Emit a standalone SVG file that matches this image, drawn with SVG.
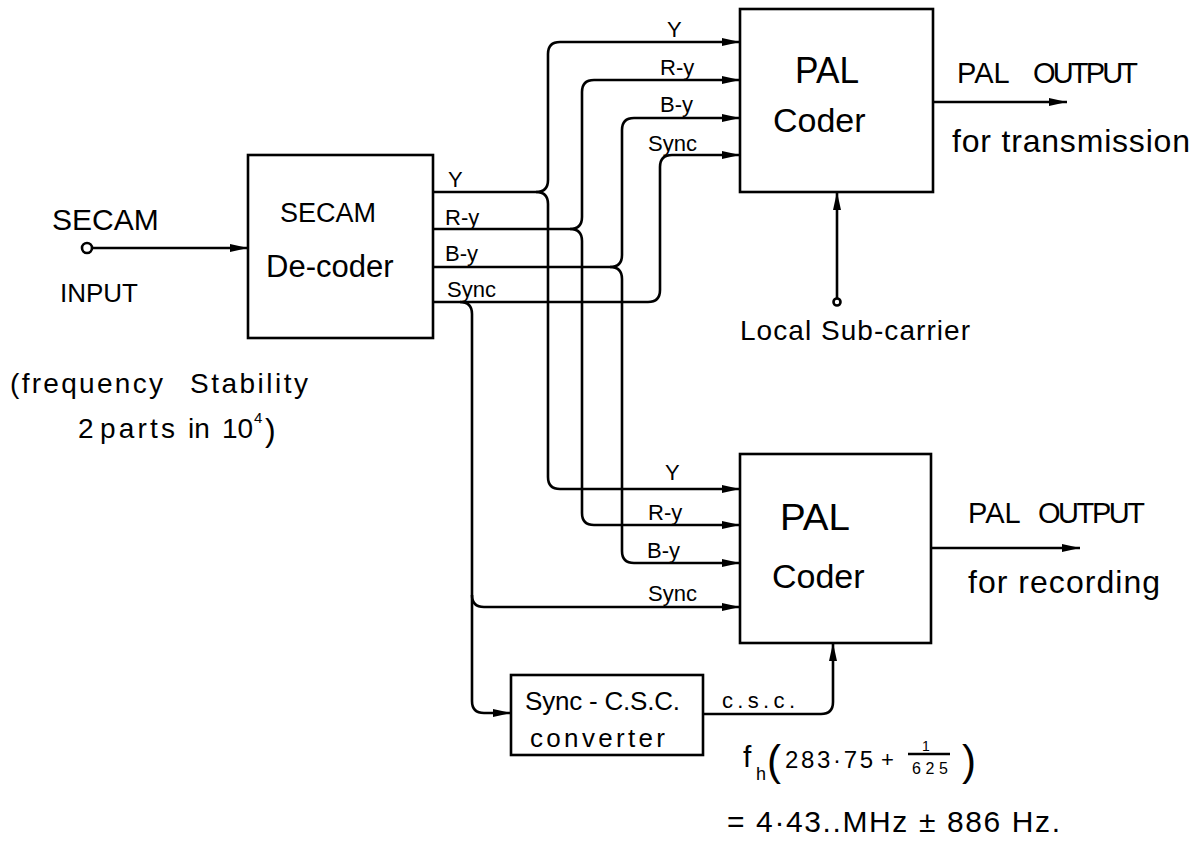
<svg xmlns="http://www.w3.org/2000/svg" width="1201" height="842" viewBox="0 0 1201 842">
<style>
.box{fill:none;stroke:#000;stroke-width:2.6}
.ln{fill:none;stroke:#000;stroke-width:2.6;stroke-linejoin:round}
.t{font-family:"Liberation Sans","DejaVu Sans",sans-serif;fill:#000}
.lbl{font-size:22px}
.big{font-size:34px}
.mid{font-size:29px}
</style>
<defs>
<marker id="arr" viewBox="0 0 18 10" refX="18" refY="5" markerWidth="18" markerHeight="10" markerUnits="userSpaceOnUse" orient="auto">
<path d="M0,1 L18,5 L0,9 Z" fill="#000"/>
</marker>
</defs>
<rect width="1201" height="842" fill="#fff"/>

<g id="connectors">
<circle cx="87" cy="248" r="5" class="ln"/>
<path class="ln" d="M92,248 H248" marker-end="url(#arr)"/>
<!-- Y -->
<path class="ln" d="M433,192 H536 Q548,192 548,180 V54 Q548,42 560,42 H740" marker-end="url(#arr)"/>
<path class="ln" d="M536,192 Q548,192 548,204 V477 Q548,489 560,489 H740" marker-end="url(#arr)"/>
<!-- R-y -->
<path class="ln" d="M433,229 H570 Q582,229 582,217 V92 Q582,80 594,80 H740" marker-end="url(#arr)"/>
<path class="ln" d="M570,229 Q582,229 582,241 V513 Q582,525 594,525 H740" marker-end="url(#arr)"/>
<!-- B-y -->
<path class="ln" d="M433,267 H610 Q622,267 622,255 V130 Q622,118 634,118 H740" marker-end="url(#arr)"/>
<path class="ln" d="M610,267 Q622,267 622,279 V551 Q622,563 634,563 H740" marker-end="url(#arr)"/>
<!-- Sync -->
<path class="ln" d="M433,302 H648 Q660,302 660,290 V167 Q660,155 672,155 H740" marker-end="url(#arr)"/>
<path class="ln" d="M460,302 Q472,302 472,314 V595 Q472,607 484,607 H740" marker-end="url(#arr)"/>
<path class="ln" d="M472,595 V701 Q472,713 484,713 H511" marker-end="url(#arr)"/>
<!-- c.s.c. -->
<path class="ln" d="M703,714 H821 Q833,714 833,702 V643" marker-end="url(#arr)"/>
<!-- local sub-carrier -->
<circle cx="837" cy="302" r="3.5" class="ln"/>
<path class="ln" d="M837,298 V192" marker-end="url(#arr)"/>
<!-- outputs -->
<path class="ln" d="M933,102 H1067" marker-end="url(#arr)"/>
<path class="ln" d="M931,548 H1080" marker-end="url(#arr)"/>
</g>

<g id="input-labels">
<text class="t" x="52" y="230" font-size="30">SECAM</text>
<text class="t" x="60" y="302" font-size="26">INPUT</text>
<text class="t" x="10" y="393" font-size="28" textLength="153">(frequency</text>
<text class="t" x="190" y="393" font-size="28" textLength="118">Stability</text>
<text class="t" x="78" y="438" font-size="28">2</text>
<text class="t" x="100" y="438" font-size="28" textLength="75">parts</text>
<text class="t" x="188" y="438" font-size="28">in</text>
<text class="t" x="222" y="438" font-size="28">10</text>
<text class="t" x="254" y="423" font-size="15">4</text>
<text class="t" x="265" y="441" font-size="32">)</text>
</g>

<g id="secam-decoder">
<rect class="box" x="248" y="155" width="185" height="183"/>
<text class="t" x="280" y="222" font-size="27">SECAM</text>
<text class="t" x="266" y="277" font-size="31">De-coder</text>
<text class="t lbl" x="448" y="187">Y</text>
<text class="t lbl" x="445" y="225">R-y</text>
<text class="t lbl" x="445" y="261">B-y</text>
<text class="t lbl" x="447" y="297">Sync</text>
</g>

<g id="pal-coder-transmission">
<rect class="box" x="740" y="9" width="193" height="183"/>
<text class="t" x="795" y="83" font-size="36" textLength="64" lengthAdjust="spacingAndGlyphs">PAL</text>
<text class="t big" x="773" y="132">Coder</text>
<text class="t lbl" x="667" y="37">Y</text>
<text class="t lbl" x="660" y="75">R-y</text>
<text class="t lbl" x="660" y="112">B-y</text>
<text class="t lbl" x="648" y="151">Sync</text>
<text class="t mid" x="957" y="83">PAL</text>
<text class="t mid" x="1033" y="83" textLength="105">OUTPUT</text>
<text class="t" x="952" y="152" font-size="32" textLength="238">for transmission</text>
<text class="t" x="740" y="340" font-size="28" textLength="230">Local Sub-carrier</text>
</g>

<g id="pal-coder-recording">
<rect class="box" x="740" y="454" width="191" height="189"/>
<text class="t" x="780" y="530" font-size="36" textLength="70" lengthAdjust="spacingAndGlyphs">PAL</text>
<text class="t big" x="772" y="588">Coder</text>
<text class="t lbl" x="665" y="480">Y</text>
<text class="t lbl" x="648" y="520">R-y</text>
<text class="t lbl" x="647" y="558">B-y</text>
<text class="t lbl" x="648" y="601">Sync</text>
<text class="t mid" x="968" y="523">PAL</text>
<text class="t mid" x="1038" y="523" textLength="107">OUTPUT</text>
<text class="t" x="968" y="593" font-size="32" textLength="192">for recording</text>
</g>

<g id="sync-csc-converter">
<rect class="box" x="511" y="675" width="192" height="80"/>
<text class="t" x="525" y="710" font-size="26" textLength="155">Sync - C.S.C.</text>
<text class="t" x="530" y="747" font-size="26" textLength="135">converter</text>
<text class="t" x="722" y="708" font-size="22" textLength="73">c.s.c.</text>
</g>

<g id="formula">
<text class="t" x="743" y="767" font-size="30">f</text>
<text class="t" x="756" y="780" font-size="18">h</text>
<text class="t" x="767" y="775" font-size="42">(</text>
<text class="t" x="785" y="768" font-size="24" textLength="88">283·75</text>
<text class="t" x="881" y="767" font-size="22">+</text>
<text class="t" x="922" y="751" font-size="14">1</text>
<path class="ln" d="M908,754 H950" stroke-width="2"/>
<text class="t" x="912" y="774" font-size="16" textLength="36">625</text>
<text class="t" x="962" y="775" font-size="42">)</text>
<text class="t" x="727" y="832" font-size="30" textLength="333">= 4·43..MHz ± 886 Hz.</text>
</g>
</svg>
